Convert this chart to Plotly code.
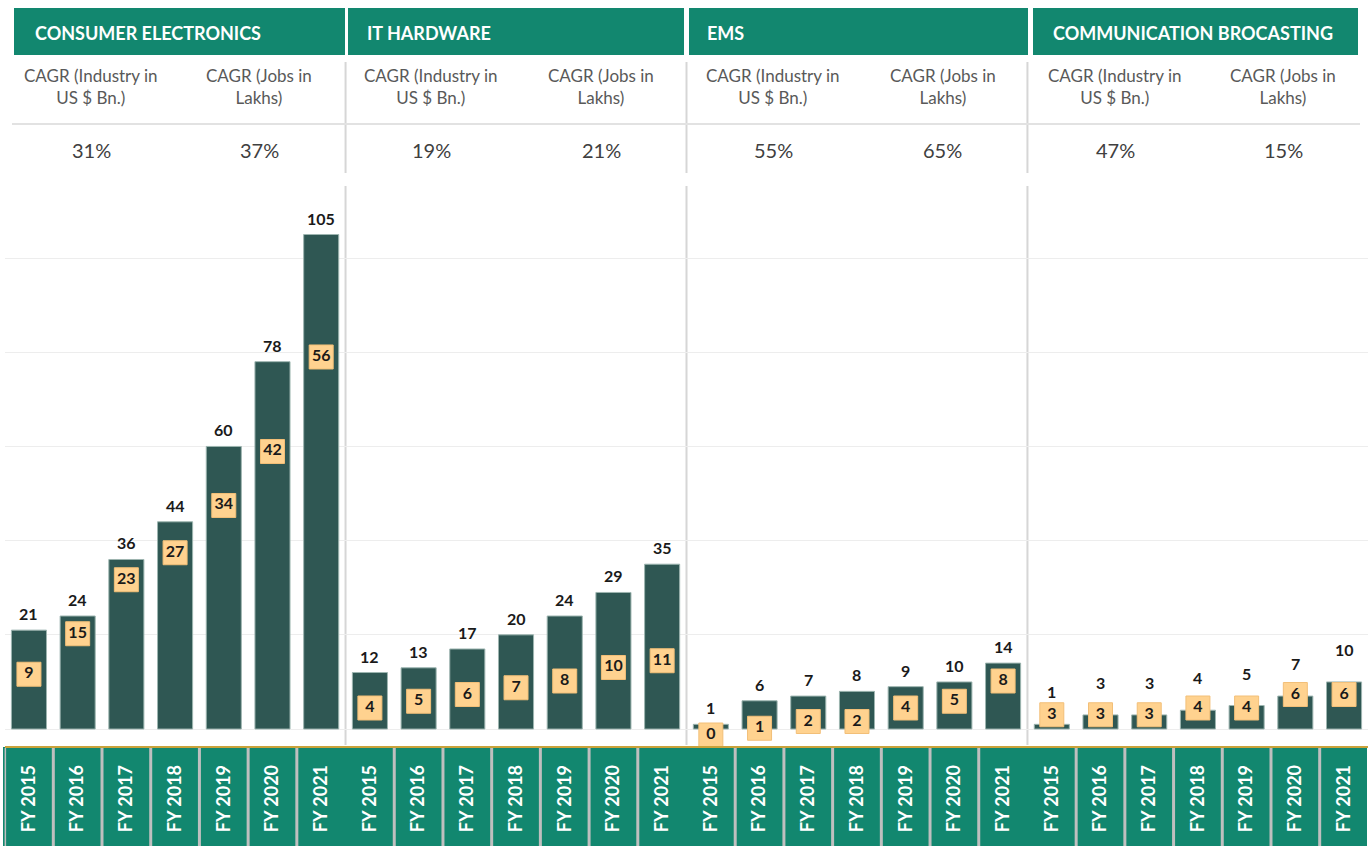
import plotly.graph_objects as go

# ---------------- data ----------------
groups = ["CONSUMER ELECTRONICS", "IT HARDWARE", "EMS", "COMMUNICATION BROCASTING"]
years = ["FY 2015", "FY 2016", "FY 2017", "FY 2018", "FY 2019", "FY 2020", "FY 2021"]

industry_ce = [21, 24, 36, 44, 60, 78, 105]
industry_it = [12, 13, 17, 20, 24, 29, 35]
industry_ems = [1, 6, 7, 8, 9, 10, 14]
industry_comm = [1, 3, 3, 4, 5, 7, 10]

jobs_ce = [9, 15, 23, 27, 34, 42, 56]
jobs_it = [4, 5, 6, 7, 8, 10, 11]
jobs_ems = [0, 1, 2, 2, 4, 5, 8]
jobs_comm = [3, 3, 3, 4, 4, 6, 6]

cagr_industry = ["31%", "19%", "55%", "47%"]
cagr_jobs = ["37%", "21%", "65%", "15%"]
cagr_industry_label = "CAGR (Industry in<br>US $ Bn.)"
cagr_jobs_label = "CAGR (Jobs in<br>Lakhs)"

# ---------------- build ----------------
industry = industry_ce + industry_it + industry_ems + industry_comm
jobs = jobs_ce + jobs_it + jobs_ems + jobs_comm
keys = [f"{g}|{y}" for g in groups for y in years]
ticktext = [y for g in groups for y in years]

W, H = 1370, 846
FONT = "Lato"
GREEN = "#12876F"
BAR = "#2F5753"
ORANGE = "#FFD28F"
label_shift = [5, 5, 5, 21]   # vertical offset (px) of value labels per group


def px(x):
    return x / W


def py(y):
    return 1 - y / H


fig = go.Figure()
fig.add_trace(go.Bar(
    x=keys, y=industry,
    marker=dict(color=BAR, line=dict(color="#9DB5B0", width=1)),
    hoverinfo="skip",
))
fig.add_trace(go.Scatter(
    x=keys, y=jobs, yaxis="y2",
    mode="markers+text",
    marker=dict(symbol="square", size=24, color=ORANGE,
                line=dict(color="#F2BF78", width=1)),
    text=[f"<b>{v}</b>" for v in jobs],
    textposition="middle center",
    textfont=dict(family=FONT, size=16, color="#1a1a1a"),
    cliponaxis=False,
    hoverinfo="skip",
))

shapes = []
annotations = []

# value labels above bars
n = len(years)
for i, (k, v) in enumerate(zip(keys, industry)):
    annotations.append(dict(xref="x", yref="y", x=k, y=v, xanchor="center",
                            yanchor="bottom", yshift=label_shift[i // n],
                            showarrow=False, text=f"<b>{v}</b>",
                            font=dict(family=FONT, size=16, color="#1a1a1a")))

# bottom green label band
shapes.append(dict(type="rect", xref="paper", yref="paper",
                   x0=px(3), x1=px(1367), y0=py(846), y1=py(747),
                   fillcolor=GREEN, line=dict(width=0), layer="below"))
# separators inside each group in the label band
for gi in range(len(groups)):
    for j in range(n - 1):
        xi = gi * n + j + 0.5
        shapes.append(dict(type="line", xref="x", yref="paper",
                           x0=xi, x1=xi, y0=py(846), y1=py(748),
                           line=dict(color="#BFBFBF", width=3), layer="below"))
shapes.append(dict(type="line", xref="x", yref="paper", x0=-0.5, x1=-0.5,
                   y0=py(846), y1=py(748), line=dict(color="#BFBFBF", width=3), layer="below"))

# group separators (chart + header)
for gi in range(1, len(groups)):
    xi = gi * n - 0.5
    shapes.append(dict(type="line", xref="x", yref="paper", x0=xi, x1=xi,
                       y0=py(745), y1=py(186), line=dict(color="#D6D6D6", width=2), layer="below"))
    shapes.append(dict(type="line", xref="x", yref="paper", x0=xi, x1=xi,
                       y0=py(173), y1=py(62), line=dict(color="#D6D6D6", width=2), layer="below"))

# header horizontal rule
shapes.append(dict(type="line", xref="paper", yref="paper", x0=px(12), x1=px(1360),
                   y0=py(124), y1=py(124), line=dict(color="#E2E2E2", width=2)))

# header bands
bands = [(14, 345), (348, 684), (689, 1028), (1033, 1358)]
title_x = [33, 365, 705, 1051]
ind_x = [91, 431, 773, 1115]
job_x = [259, 601, 943, 1283]
for gi, g in enumerate(groups):
    x0, x1 = bands[gi]
    shapes.append(dict(type="rect", xref="paper", yref="paper",
                       x0=px(x0), x1=px(x1), y0=py(55), y1=py(8),
                       fillcolor=GREEN, line=dict(width=0)))
    annotations.append(dict(xref="paper", yref="paper", x=px(title_x[gi]), y=py(33),
                            xanchor="left", yanchor="middle", showarrow=False,
                            text=f"<b>{g}</b>",
                            font=dict(family=FONT, size=18, color="white")))
    annotations.append(dict(xref="paper", yref="paper", x=px(ind_x[gi]), y=py(87),
                            xanchor="center", yanchor="middle", showarrow=False,
                            text=cagr_industry_label,
                            font=dict(family=FONT, size=17, color="#595959")))
    annotations.append(dict(xref="paper", yref="paper", x=px(job_x[gi]), y=py(87),
                            xanchor="center", yanchor="middle", showarrow=False,
                            text=cagr_jobs_label,
                            font=dict(family=FONT, size=17, color="#595959")))
    annotations.append(dict(xref="paper", yref="paper", x=px(ind_x[gi]), y=py(150),
                            xanchor="center", yanchor="middle", showarrow=False,
                            text=cagr_industry[gi],
                            font=dict(family=FONT, size=20, color="#404040")))
    annotations.append(dict(xref="paper", yref="paper", x=px(job_x[gi]), y=py(150),
                            xanchor="center", yanchor="middle", showarrow=False,
                            text=cagr_jobs[gi],
                            font=dict(family=FONT, size=20, color="#404040")))

fig.update_layout(
    width=W, height=H,
    margin=dict(l=0, r=0, t=0, b=0, pad=0),
    paper_bgcolor="white", plot_bgcolor="white",
    showlegend=False,
    bargap=0.28,
    shapes=shapes,
    annotations=annotations,
    xaxis=dict(domain=[px(4.6), px(1368.4)], type="category",
               categoryorder="array", categoryarray=keys,
               range=[-0.5, len(keys) - 0.5],
               tickmode="array", tickvals=keys, ticktext=ticktext,
               tickangle=-90, ticks="", ticklabelstandoff=10,
               tickfont=dict(family=FONT, size=18, color="white", weight="bold"),
               showline=True, linecolor="#C9A23A", linewidth=1.5,
               showgrid=False, zeroline=False, fixedrange=True),
    yaxis=dict(domain=[py(746), py(186)], range=[-3.6, 115.3],
               dtick=20, tick0=0, showticklabels=False,
               showgrid=True, gridcolor="#EDEDED", gridwidth=1,
               zeroline=False, showline=False, fixedrange=True),
    yaxis2=dict(overlaying="y", range=[-1.63, 81.33], visible=False,
                showgrid=False, zeroline=False, fixedrange=True),
)

fig.write_html("out.html", config={"displayModeBar": False},
               post_script="document.body.style.margin='0';")
